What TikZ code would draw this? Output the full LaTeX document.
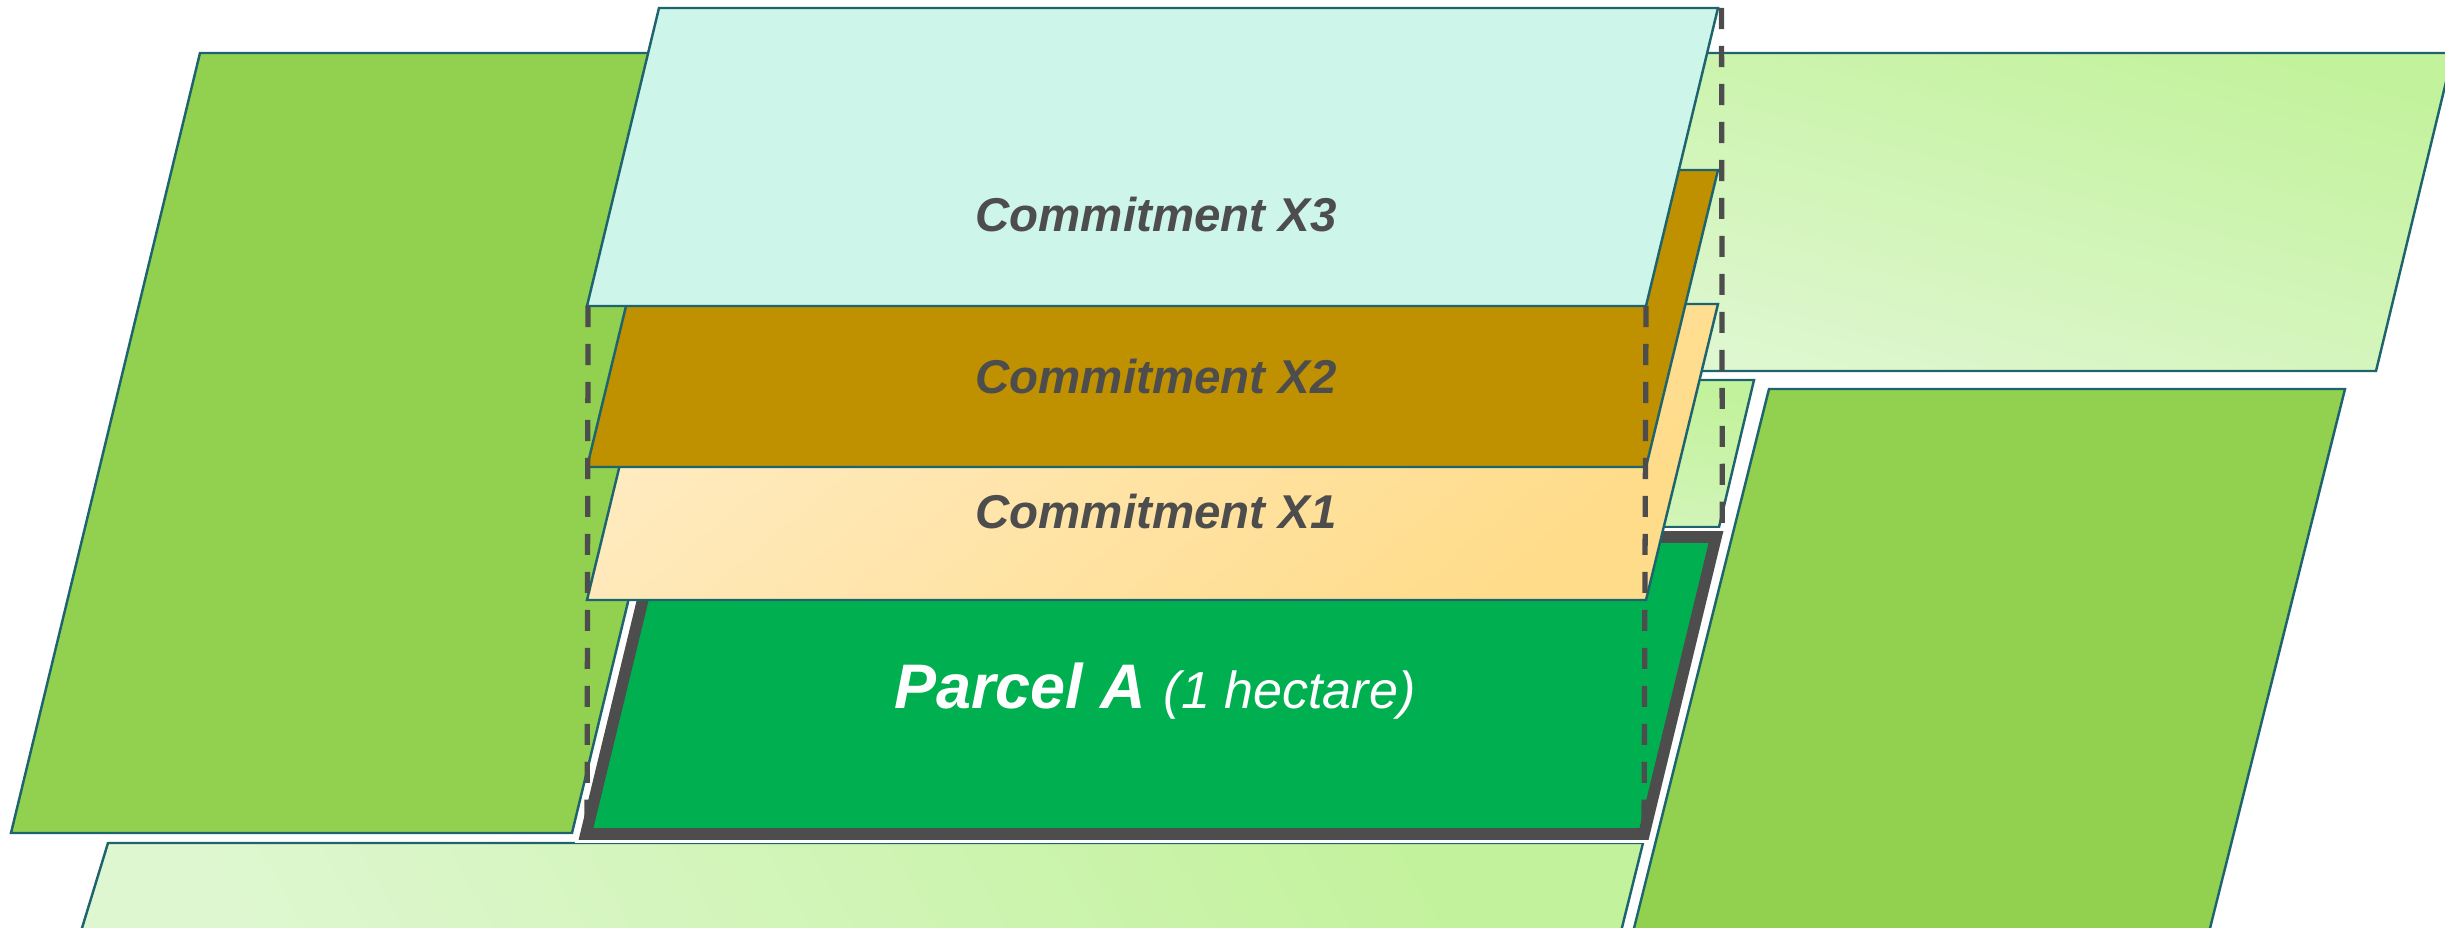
\documentclass[tikz,border=0pt]{standalone}
\usepackage{fontspec}
\setmainfont{Liberation Sans}
\definecolor{edge}{RGB}{30,100,110}
\definecolor{fieldgreen}{HTML}{92D050}
\definecolor{parcelgreen}{HTML}{00B050}
\definecolor{darkgrey}{HTML}{4D4D4D}
\definecolor{goldx}{HTML}{BF9000}
\definecolor{mint}{HTML}{CDF5E9}
\definecolor{lgA}{HTML}{C3F29C}
\definecolor{lgB}{HTML}{DEF7D0}
\definecolor{orA}{HTML}{FFEBC1}
\definecolor{orB}{HTML}{FFDC8A}
\tikzset{
  field/.style={draw=edge, line width=0.7pt, line join=miter},
  layertext/.style={font=\fontsize{13.5}{16}\selectfont\bfseries\itshape, text=darkgrey, anchor=base, inner sep=0pt},
  dashguide/.style={draw=darkgrey, line width=1.5pt, dash pattern=on 6pt off 4.8pt},
}
\begin{document}
\begin{tikzpicture}[x=0.01cm, y=-0.01cm]
\useasboundingbox (0,0) rectangle (2445,928);
\clip (0,0) rectangle (2445,928);
% background fields
\path[field, fill=fieldgreen] (11,833) -- (572,833) -- (761,53) -- (200,53) -- cycle;
\path[field, top color=lgA, bottom color=lgB, shading angle=-15] (1600,371) -- (2376,371) -- (2453,53) -- (1677,53) -- cycle;
\path[field, fill=fieldgreen] (1591,1100) -- (2167,1100) -- (2345,389) -- (1769,389) -- cycle;
\path[field, top color=lgA, bottom color=lgB, shading angle=-60] (60,1000) -- (1604,1000) -- (1643,843) -- (108,843) -- cycle;
\path[field, top color=lgA, bottom color=lgB, shading angle=-10] (900,527) -- (1719,527) -- (1754,380) -- (936,380) -- cycle;
% parcel A
\coordinate (pbl) at (586,834);
\coordinate (pbr) at (1644,834);
\coordinate (ptr) at (1716,537);
\coordinate (ptl) at (658,537);
\path[draw=white, line width=5pt, line join=miter] (pbl) -- (pbr) -- (ptr) -- (ptl) -- cycle;
\path[draw=darkgrey, fill=parcelgreen, line width=3.3pt, line join=miter] (pbl) -- (pbr) -- (ptr) -- (ptl) -- cycle;
% commitment layers
\path[field, top color=orA, bottom color=orB, shading angle=40] (587,600) -- (1646,600) -- (1718,304) -- (659,304) -- cycle;
\path[field, fill=goldx] (587,467) -- (1646,467) -- (1718,170) -- (659,170) -- cycle;
\coordinate (xbl) at (587,306);
\coordinate (xbr) at (1646,306);
\coordinate (xtr) at (1718,8);
\coordinate (xtl) at (659,8);
\path[field, fill=mint] (xbl) -- (xbr) -- (xtr) -- (xtl) -- cycle;
% guides
\draw[dashguide] ([xshift=0.3pt]xbl) -- ([xshift=0.3pt]pbl);
\draw[dashguide] (xbr) -- (pbr);
\draw[dashguide] ([xshift=1pt]xtr) -- ([xshift=1.8pt]ptr);
% labels
\node[layertext] (t3) at (1156,232) {Commitment X3};
\node[layertext] (t2) at (1156,394) {Commitment X2};
\node[layertext] (t1) at (1156,529) {Commitment X1};
\node[anchor=base, inner sep=0pt, text=white] (tp) at (1155,709) {\fontsize{17.9}{20}\selectfont\bfseries\itshape Parcel A \fontsize{14.8}{18}\selectfont\mdseries(1 hectare)};
\end{tikzpicture}
\end{document}
